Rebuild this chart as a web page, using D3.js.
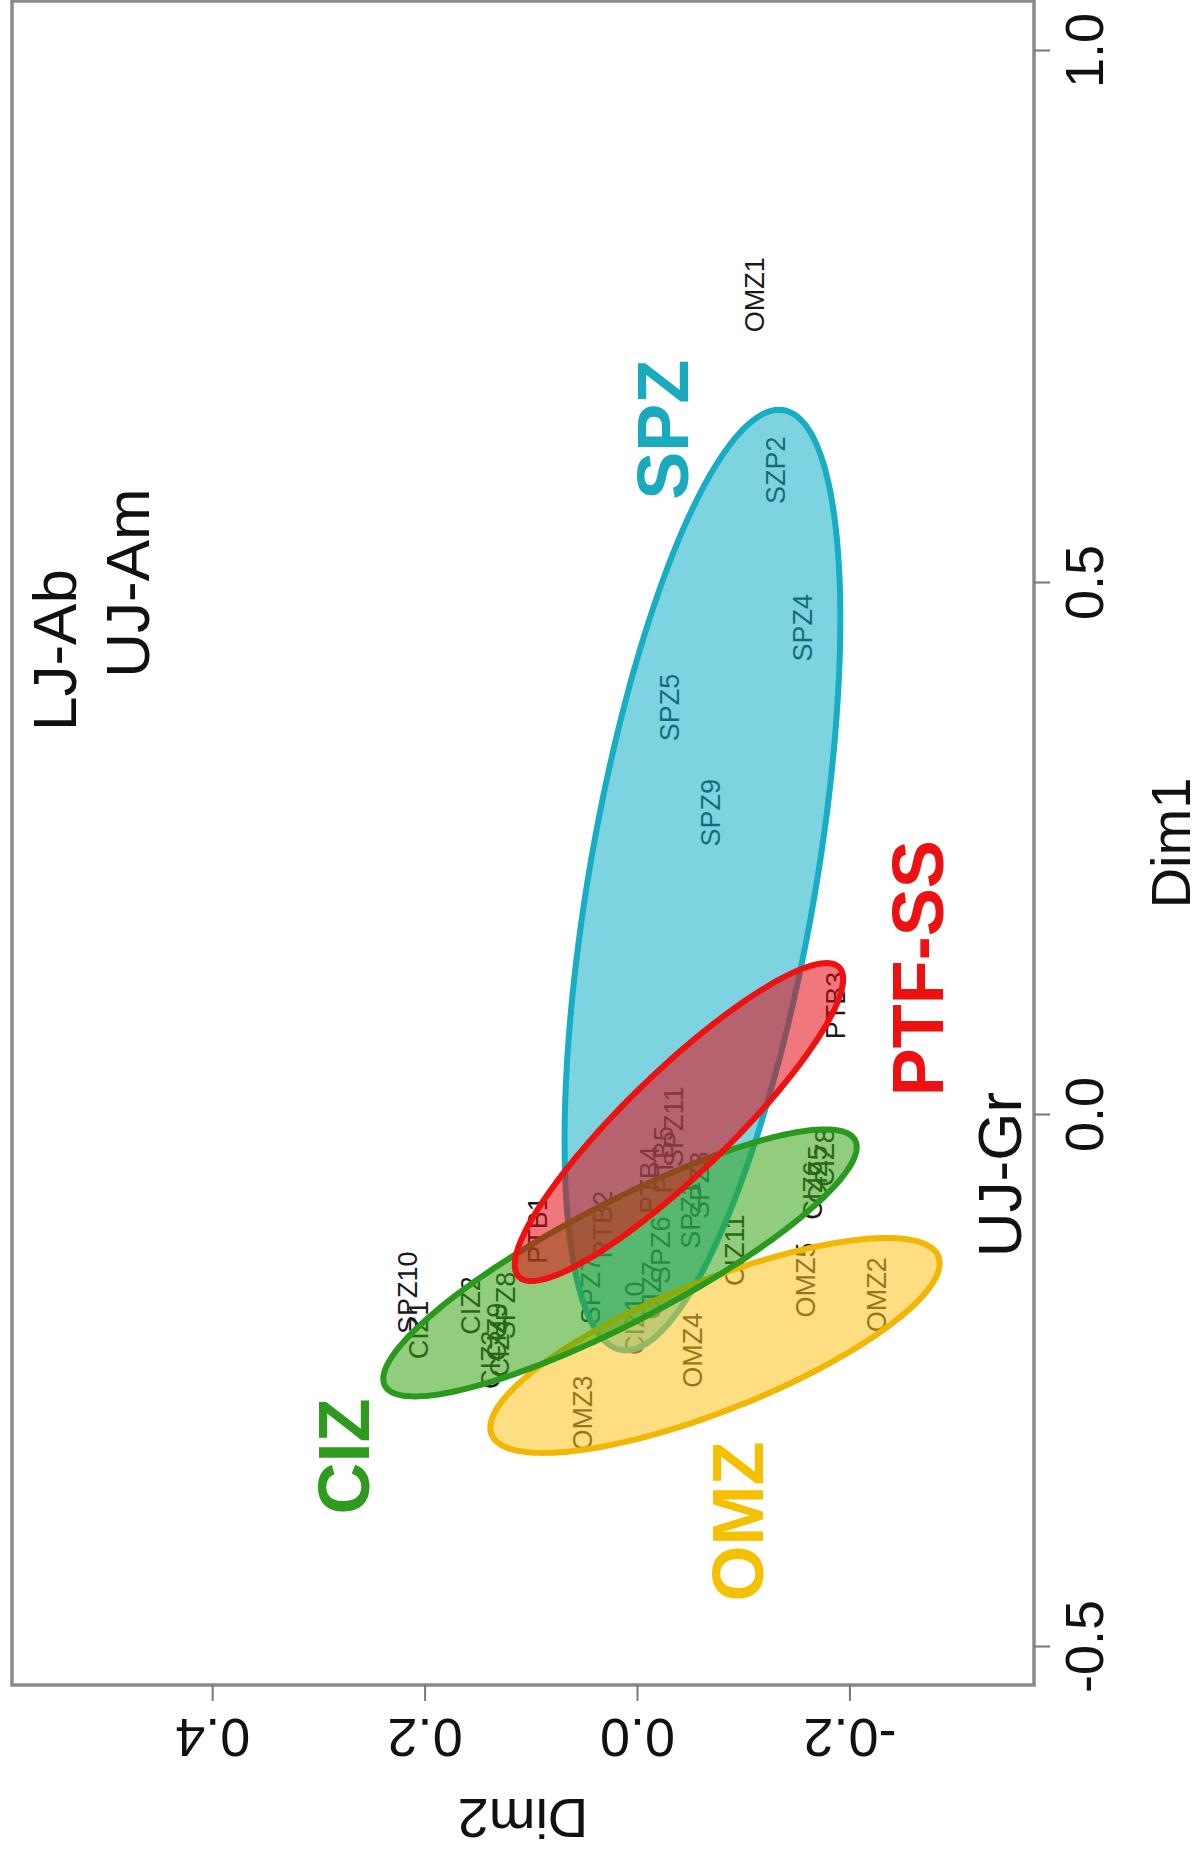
<!DOCTYPE html>
<html><head><meta charset="utf-8">
<script src="https://cdn.jsdelivr.net/npm/d3@7"></script>
<style>html,body{margin:0;padding:0;background:#fff}svg{display:block}</style>
</head><body>
<svg id="chart" width="1203" height="1860"></svg>
<script>
// Individual samples on the first two dimensions
const sampleNames = ["OMZ1","SZP2","SPZ4","SPZ5","SPZ9","PTB3","SPZ11","SPZ3","SPZ1","SPZ6","SPZ7","SPZ10","SPZ8",
  "PTB1","PTB2","PTB4","PTB5","CIZ1","CIZ2","CIZ3","CIZ4","CIZ9","CIZ5","CIZ8","CIZ6","CIZ7","CIZ10","CIZ11",
  "OMZ2","OMZ3","OMZ4","OMZ5"];
const sampleDim1 = [0.771,0.606,0.458,0.383,0.284,0.103,-0.011,-0.066,-0.094,-0.127,-0.165,-0.167,-0.179,
  -0.108,-0.103,-0.061,-0.042,-0.202,-0.179,-0.230,-0.219,-0.204,-0.056,-0.040,-0.071,-0.165,-0.191,-0.127,
  -0.169,-0.280,-0.221,-0.155];
const sampleDim2 = [-0.111,-0.130,-0.156,-0.031,-0.069,-0.187,-0.034,-0.059,-0.050,-0.022,0.044,0.216,0.124,
  0.094,0.032,-0.012,-0.025,0.206,0.157,0.138,0.129,0.132,-0.170,-0.177,-0.165,-0.014,0.002,-0.092,
  -0.226,0.051,-0.052,-0.159];

// Group ellipses: centre, half-extent along Dim1, half-width along Dim2 at the centre,
// and Dim2 drift of the ellipse axis per unit of Dim1
const groups      = ["SPZ","OMZ","CIZ","PTF-SS"];
const groupDim1   = [0.2208,-0.2166,-0.1390,-0.0066];
const groupDim2   = [-0.0616,-0.0734,0.0160,-0.0395];
const groupSpan1  = [0.442,0.101,0.1255,0.1494];
const groupSpan2  = [0.108,0.1365,0.111,0.0678];
const groupSlope  = [-0.163,-1.60,-1.54,-0.93];
const groupFill   = ["#13afc7","#fbc31c","#37a413","#e40a13"];
const groupStroke = ["#17adc2","#f2b705","#2a9a1e","#ee1111"];
const groupText   = ["#19aabd","#f5c000","#2e9a1e","#ee1111"];
const groupLabelDim1 = [0.644,-0.382,-0.321,0.138];
const groupLabelDim2 = [-0.024,-0.095,0.276,-0.264];

// Variable annotations
const varNames = ["LJ-Ab","UJ-Am","UJ-Gr"];
const varDim1  = [0.437,0.500,-0.056];
const varDim2  = [0.549,0.480,-0.341];

// Axis ticks
const dim1Ticks = [-0.5,0.0,0.5,1.0];
const dim2Ticks = [-0.2,0.0,0.2,0.4];

const FONT = "'Liberation Sans', Arial, Helvetica, sans-serif";
const W = 1860, H = 1203;                 // plot frame before turning it onto the page
const plot = {left:175, right:1859, top:12, bottom:1034};

const x = d3.scaleLinear().domain([-0.5357,1.047]).range([plot.left, plot.right]);
const y = d3.scaleLinear().domain([-0.3738,0.5885]).range([plot.bottom, plot.top]);

const svg = d3.select("#chart");
svg.append("rect").attr("width",1203).attr("height",1860).attr("fill","#fff");

// the whole figure is laid on its side: Dim1 runs up the page
const g = svg.append("g").attr("transform", `translate(0,${W}) rotate(-90)`);

// sample labels (under the translucent ellipses)
g.append("g").selectAll("text").data(sampleNames).join("text")
  .attr("x",(d,i)=>x(sampleDim1[i]))
  .attr("y",(d,i)=>y(sampleDim2[i]))
  .attr("text-anchor","middle").attr("dy","0.35em")
  .attr("font-family",FONT).attr("font-size",27).attr("fill","#1a1a1a")
  .text(d=>d);

// concentration ellipses
const line = d3.line().curve(d3.curveLinearClosed);
groups.forEach((name,i)=>{
  const pts = d3.range(0,360,2).map(a=>{
    const t = a*Math.PI/180;
    const d1 = groupDim1[i] + groupSpan1[i]*Math.cos(t);
    const d2 = groupDim2[i] + groupSpan2[i]*Math.sin(t) + groupSlope[i]*groupSpan1[i]*Math.cos(t);
    return [x(d1), y(d2)];
  });
  g.append("path").attr("d",line(pts))
    .attr("fill",groupFill[i]).attr("fill-opacity",0.55)
    .attr("stroke",groupStroke[i]).attr("stroke-width",6);
});

// group names
g.append("g").selectAll("text").data(groups).join("text")
  .attr("x",(d,i)=>x(groupLabelDim1[i]))
  .attr("y",(d,i)=>y(groupLabelDim2[i]))
  .attr("text-anchor","middle").attr("dy","0.35em")
  .attr("font-family",FONT).attr("font-size",72).attr("font-weight","bold")
  .attr("fill",(d,i)=>groupText[i])
  .text(d=>d);

// variable annotations
g.append("g").selectAll("text").data(varNames).join("text")
  .attr("x",(d,i)=>x(varDim1[i]))
  .attr("y",(d,i)=>y(varDim2[i]))
  .attr("text-anchor","middle").attr("dy","0.35em")
  .attr("font-family",FONT).attr("font-size",62).attr("fill","#111")
  .text(d=>d);

// frame
g.append("rect").attr("x",plot.left).attr("y",plot.top)
  .attr("width",plot.right-plot.left).attr("height",plot.bottom-plot.top)
  .attr("fill","none").attr("stroke","#8a8a8a").attr("stroke-width",3.5);

// Dim1 axis
const ax1 = g.append("g").attr("transform",`translate(0,${plot.bottom})`)
  .call(d3.axisBottom(x).tickValues(dim1Ticks).tickSize(16).tickFormat(d=>d.toFixed(1)));
ax1.select(".domain").remove();
ax1.selectAll(".tick line").attr("stroke","#777").attr("stroke-width",2);
ax1.selectAll(".tick text").attr("y",50).attr("dy","0.35em")
  .attr("font-family",FONT).attr("font-size",54).attr("fill","#111");

// Dim2 axis
const ax2 = g.append("g").attr("transform",`translate(${plot.left},0)`)
  .call(d3.axisLeft(y).tickValues(dim2Ticks).tickSize(16).tickFormat(d=>d.toFixed(1)));
ax2.select(".domain").remove();
ax2.selectAll(".tick line").attr("stroke","#777").attr("stroke-width",2);
ax2.selectAll(".tick text").attr("x",null).attr("dy","0.35em")
  .attr("text-anchor","middle").attr("transform","translate(-53,0) rotate(-90)")
  .attr("font-family",FONT).attr("font-size",54).attr("fill","#111");

// axis titles
g.append("text").attr("x",(plot.left+plot.right)/2).attr("y",1170)
  .attr("text-anchor","middle").attr("dy","0.35em")
  .attr("font-family",FONT).attr("font-size",56).attr("fill","#111").text("Dim1");
g.append("text").attr("transform",`translate(41,${(plot.top+plot.bottom)/2}) rotate(-90)`)
  .attr("text-anchor","middle").attr("dy","0.35em")
  .attr("font-family",FONT).attr("font-size",56).attr("fill","#111").text("Dim2");
</script>
</body></html>
